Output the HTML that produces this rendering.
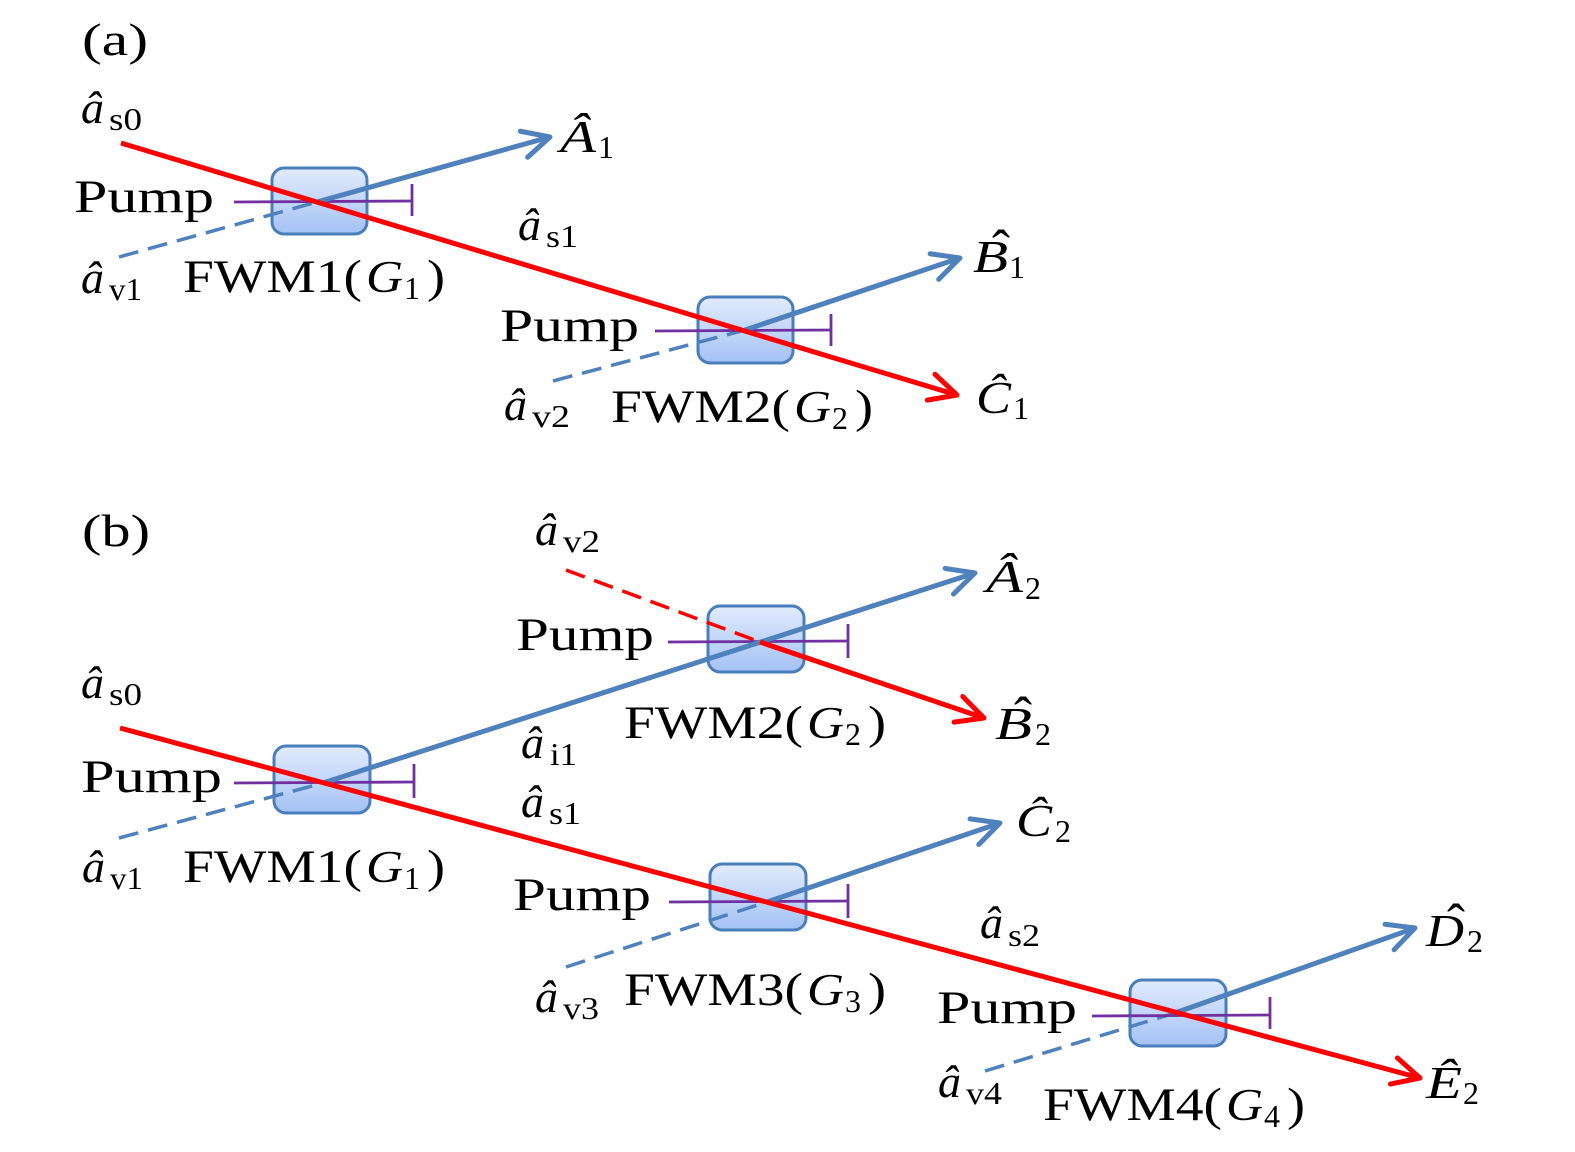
<!DOCTYPE html>
<html>
<head>
<meta charset="utf-8">
<style>
html,body{margin:0;padding:0;background:#fff;}
svg{display:block;}
text{font-family:"Liberation Serif","DejaVu Serif",serif;fill:#000;}
.m{font-size:46px;}
.w{font-size:47px;}
.i{font-style:italic;}
.s{font-size:32px;}
.h{font-size:54px;}
</style>
</head>
<body>
<svg width="1575" height="1152" viewBox="0 0 1575 1152" xmlns="http://www.w3.org/2000/svg">
<defs>
<linearGradient id="g" x1="0" y1="0" x2="0" y2="1">
<stop offset="0" stop-color="#e2ebfc"/>
<stop offset="1" stop-color="#a4c2f5"/>
</linearGradient>
<marker id="ab" markerUnits="userSpaceOnUse" orient="auto" markerWidth="70" markerHeight="70" viewBox="-40 -35 70 70" refX="0" refY="0" overflow="visible">
<path d="M-27,-13.5 L0,0 L-27,13.5" fill="none" stroke="#4f81bd" stroke-width="5" stroke-linecap="round" stroke-linejoin="round"/>
</marker>
<marker id="ar" markerUnits="userSpaceOnUse" orient="auto" markerWidth="70" markerHeight="70" viewBox="-40 -35 70 70" refX="0" refY="0" overflow="visible">
<path d="M-27,-13.5 L0,0 L-27,13.5" fill="none" stroke="#ff0000" stroke-width="5" stroke-linecap="round" stroke-linejoin="round"/>
</marker>
</defs>

<!-- boxes -->
<g fill="url(#g)" stroke="#4a7ebb" stroke-width="3">
<rect x="272" y="168" width="95" height="66" rx="12"/>
<rect x="698" y="297" width="95" height="66" rx="12"/>
<rect x="274" y="746" width="96" height="67" rx="12"/>
<rect x="708" y="606" width="96" height="66" rx="12"/>
<rect x="710" y="864" width="96" height="66" rx="12"/>
<rect x="1130" y="980" width="96" height="66" rx="12"/>
</g>

<!-- dashed vacuum inputs -->
<g stroke="#4f81bd" stroke-width="3.5" stroke-dasharray="20 10" fill="none">
<line x1="119" y1="257" x2="317" y2="202"/>
<line x1="553" y1="381" x2="745" y2="330"/>
<line x1="119" y1="838" x2="323" y2="783"/>
<line x1="566" y1="967" x2="767" y2="902"/>
<line x1="985" y1="1071" x2="1175" y2="1013"/>
</g>
<line x1="566" y1="570" x2="760" y2="642" stroke="#ff0000" stroke-width="3.5" stroke-dasharray="20 10"/>

<!-- pump lines -->
<g stroke="#7030a0" stroke-width="2.8" fill="none">
<line x1="234" y1="202" x2="412" y2="201"/>
<line x1="412" y1="184" x2="412" y2="216"/>
<line x1="655" y1="331" x2="831" y2="330"/>
<line x1="831" y1="314" x2="831" y2="346"/>
<line x1="234" y1="783" x2="414" y2="782"/>
<line x1="414" y1="764" x2="414" y2="798"/>
<line x1="668" y1="642" x2="848" y2="641"/>
<line x1="848" y1="624" x2="848" y2="658"/>
<line x1="669" y1="902" x2="848" y2="901"/>
<line x1="848" y1="884" x2="848" y2="918"/>
<line x1="1092" y1="1016" x2="1270" y2="1015"/>
<line x1="1270" y1="997" x2="1270" y2="1029"/>
</g>

<!-- blue solid outputs -->
<g stroke="#4f81bd" stroke-width="5" fill="none">
<line x1="317" y1="202" x2="550" y2="137" marker-end="url(#ab)"/>
<line x1="745" y1="330" x2="960" y2="258" marker-end="url(#ab)"/>
<line x1="323" y1="783" x2="975" y2="573" marker-end="url(#ab)"/>
<line x1="767" y1="902" x2="1000" y2="823" marker-end="url(#ab)"/>
<line x1="1175" y1="1013" x2="1415" y2="928" marker-end="url(#ab)"/>
</g>

<!-- red solid -->
<g stroke="#ff0000" stroke-width="5" fill="none">
<line x1="121" y1="143" x2="957" y2="395" marker-end="url(#ar)"/>
<line x1="760" y1="642" x2="984" y2="718" marker-end="url(#ar)"/>
<line x1="120" y1="728" x2="1420" y2="1078" marker-end="url(#ar)"/>
</g>

<!-- ===== Panel (a) text ===== -->
<text class="m" x="82" y="55" textLength="66" lengthAdjust="spacingAndGlyphs">(a)</text>

<text class="m i" x="81" y="123">â</text><text class="s" x="109" y="130" textLength="33" lengthAdjust="spacingAndGlyphs">s0</text>
<text class="w" x="74" y="212" textLength="140" lengthAdjust="spacingAndGlyphs">Pump</text>
<text class="m i" x="81" y="293">â</text><text class="s" x="109" y="300" textLength="33" lengthAdjust="spacingAndGlyphs">v1</text>
<text class="w" x="183" y="292" textLength="179" lengthAdjust="spacingAndGlyphs">FWM1(</text><text class="m i" x="366" y="292" textLength="37" lengthAdjust="spacingAndGlyphs">G</text><text class="s" x="404" y="299">1</text><text class="w" x="427" y="292" textLength="18" lengthAdjust="spacingAndGlyphs">)</text>
<text class="m i" x="518" y="240">â</text><text class="s" x="546" y="247" textLength="32" lengthAdjust="spacingAndGlyphs">s1</text>
<text class="m i" x="560" y="152" textLength="36" lengthAdjust="spacingAndGlyphs">Â</text><text class="s" x="598" y="158">1</text>

<text class="w" x="500" y="341" textLength="139" lengthAdjust="spacingAndGlyphs">Pump</text>
<text class="m i" x="504" y="420">â</text><text class="s" x="532" y="427" textLength="38" lengthAdjust="spacingAndGlyphs">v2</text>
<text class="w" x="611" y="422" textLength="179" lengthAdjust="spacingAndGlyphs">FWM2(</text><text class="m i" x="794" y="422" textLength="37" lengthAdjust="spacingAndGlyphs">G</text><text class="s" x="832" y="429">2</text><text class="w" x="855" y="422" textLength="18" lengthAdjust="spacingAndGlyphs">)</text>
<text class="m i" x="973" y="272" textLength="35" lengthAdjust="spacingAndGlyphs">B</text><text class="h" x="992" y="267">ˆ</text><text class="s" x="1009" y="278">1</text>
<text class="m i" x="976" y="413" textLength="35" lengthAdjust="spacingAndGlyphs">Ĉ</text><text class="s" x="1013" y="419">1</text>

<!-- ===== Panel (b) text ===== -->
<text class="m" x="82" y="546" textLength="68" lengthAdjust="spacingAndGlyphs">(b)</text>

<text class="m i" x="535" y="545">â</text><text class="s" x="563" y="552" textLength="37" lengthAdjust="spacingAndGlyphs">v2</text>
<text class="w" x="516" y="650" textLength="138" lengthAdjust="spacingAndGlyphs">Pump</text>
<text class="w" x="624" y="738" textLength="179" lengthAdjust="spacingAndGlyphs">FWM2(</text><text class="m i" x="807" y="738" textLength="37" lengthAdjust="spacingAndGlyphs">G</text><text class="s" x="845" y="745">2</text><text class="w" x="868" y="738" textLength="18" lengthAdjust="spacingAndGlyphs">)</text>
<text class="m i" x="986" y="592" textLength="37" lengthAdjust="spacingAndGlyphs">Â</text><text class="s" x="1025" y="599">2</text>
<text class="m i" x="995" y="739" textLength="37" lengthAdjust="spacingAndGlyphs">B</text><text class="h" x="1014" y="734">ˆ</text><text class="s" x="1035" y="745">2</text>

<text class="m i" x="81" y="698">â</text><text class="s" x="109" y="705" textLength="33" lengthAdjust="spacingAndGlyphs">s0</text>
<text class="w" x="81" y="792" textLength="141" lengthAdjust="spacingAndGlyphs">Pump</text>
<text class="m i" x="82" y="882">â</text><text class="s" x="110" y="889" textLength="33" lengthAdjust="spacingAndGlyphs">v1</text>
<text class="w" x="183" y="882" textLength="179" lengthAdjust="spacingAndGlyphs">FWM1(</text><text class="m i" x="366" y="882" textLength="37" lengthAdjust="spacingAndGlyphs">G</text><text class="s" x="404" y="889">1</text><text class="w" x="427" y="882" textLength="18" lengthAdjust="spacingAndGlyphs">)</text>
<text class="m i" x="521" y="758">â</text><text class="s" x="550" y="765" textLength="27" lengthAdjust="spacingAndGlyphs">i1</text>
<text class="m i" x="521" y="817">â</text><text class="s" x="549" y="824" textLength="32" lengthAdjust="spacingAndGlyphs">s1</text>

<text class="w" x="513" y="910" textLength="138" lengthAdjust="spacingAndGlyphs">Pump</text>
<text class="m i" x="535" y="1012">â</text><text class="s" x="563" y="1019" textLength="36" lengthAdjust="spacingAndGlyphs">v3</text>
<text class="w" x="624" y="1005" textLength="179" lengthAdjust="spacingAndGlyphs">FWM3(</text><text class="m i" x="807" y="1005" textLength="37" lengthAdjust="spacingAndGlyphs">G</text><text class="s" x="845" y="1012">3</text><text class="w" x="868" y="1005" textLength="18" lengthAdjust="spacingAndGlyphs">)</text>
<text class="m i" x="1016" y="836" textLength="36" lengthAdjust="spacingAndGlyphs">Ĉ</text><text class="s" x="1055" y="842">2</text>
<text class="m i" x="980" y="938">â</text><text class="s" x="1008" y="946" textLength="32" lengthAdjust="spacingAndGlyphs">s2</text>

<text class="w" x="937" y="1023" textLength="140" lengthAdjust="spacingAndGlyphs">Pump</text>
<text class="m i" x="938" y="1097">â</text><text class="s" x="966" y="1104" textLength="36" lengthAdjust="spacingAndGlyphs">v4</text>
<text class="w" x="1043" y="1120" textLength="179" lengthAdjust="spacingAndGlyphs">FWM4(</text><text class="m i" x="1226" y="1120" textLength="37" lengthAdjust="spacingAndGlyphs">G</text><text class="s" x="1264" y="1127">4</text><text class="w" x="1287" y="1120" textLength="18" lengthAdjust="spacingAndGlyphs">)</text>
<text class="m i" x="1426" y="946" textLength="38" lengthAdjust="spacingAndGlyphs">D</text><text class="h" x="1447" y="941">ˆ</text><text class="s" x="1467" y="952">2</text>
<text class="m i" x="1426" y="1098" textLength="36" lengthAdjust="spacingAndGlyphs">Ê</text><text class="s" x="1463" y="1104">2</text>
</svg>
</body>
</html>
